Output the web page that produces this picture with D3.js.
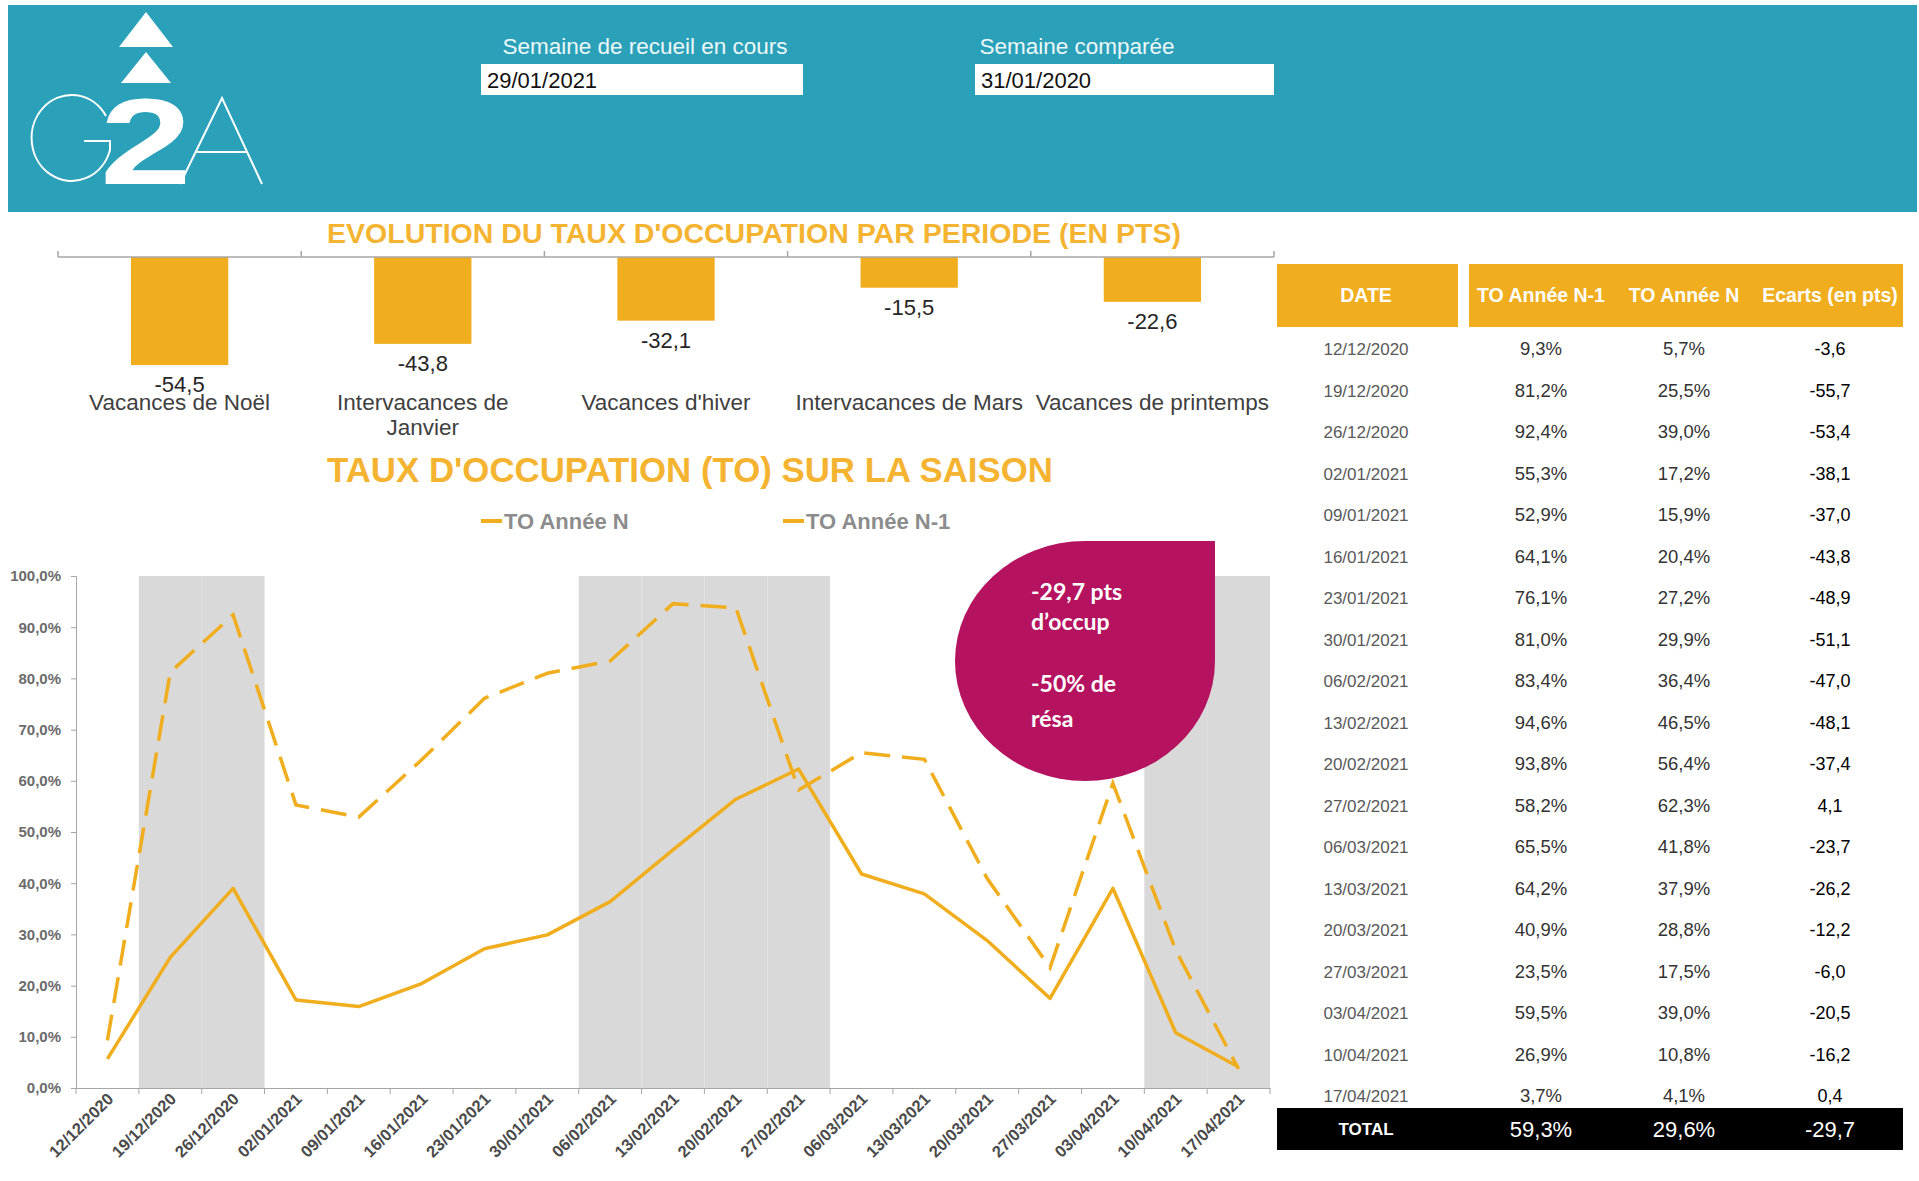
<!DOCTYPE html>
<html>
<head>
<meta charset="utf-8">
<title>G2A - Taux d'occupation</title>
<script src="https://cdnjs.cloudflare.com/ajax/libs/d3/7.8.5/d3.min.js"></script>
<style>
  body { margin: 0; background: #fff; }
  svg { display: block; font-family: "Liberation Sans", Arial, sans-serif; }
</style>
</head>
<body>
<div id="page"></div>
<script>
// header dates
var semaineRecueil = "29/01/2021";
var semaineComparee = "31/01/2020";

// evolution par periode (pts)
var periodes = ["Vacances de Noël", "Intervacances de Janvier", "Vacances d'hiver", "Intervacances de Mars", "Vacances de printemps"];
var ecartsPeriode = [-54.5, -43.8, -32.1, -15.5, -22.6];

// weekly occupation
var semaines = ["12/12/2020", "19/12/2020", "26/12/2020", "02/01/2021", "09/01/2021", "16/01/2021", "23/01/2021",
  "30/01/2021", "06/02/2021", "13/02/2021", "20/02/2021", "27/02/2021", "06/03/2021", "13/03/2021",
  "20/03/2021", "27/03/2021", "03/04/2021", "10/04/2021", "17/04/2021"];
var toN1 = [9.3, 81.2, 92.4, 55.3, 52.9, 64.1, 76.1, 81.0, 83.4, 94.6, 93.8, 58.2, 65.5, 64.2, 40.9, 23.5, 59.5, 26.9, 3.7];
var toN = [5.7, 25.5, 39.0, 17.2, 15.9, 20.4, 27.2, 29.9, 36.4, 46.5, 56.4, 62.3, 41.8, 37.9, 28.8, 17.5, 39.0, 10.8, 4.1];
var ecarts = [-3.6, -55.7, -53.4, -38.1, -37.0, -43.8, -48.9, -51.1, -47.0, -48.1, -37.4, 4.1, -23.7, -26.2, -12.2, -6.0, -20.5, -16.2, 0.4];
// weeks falling in school holidays (grey columns, 100%)
var vacances = [0, 100, 100, 0, 0, 0, 0, 0, 100, 100, 100, 100, 0, 0, 0, 0, 0, 100, 100];
var yTicks = [0, 10, 20, 30, 40, 50, 60, 70, 80, 90, 100];

// totals
var totalN1 = 59.3;
var totalN = 29.6;
var totalEcart = -29.7;

var calloutLines = ["-29,7 pts", "d\u2019occup", "-50% de", "résa"];

var orange = "#F0AE1E";
var teal = "#2AA1B8";

var fr = d3.formatLocale({decimal: ",", thousands: " ", grouping: [3], currency: ["", " €"], minus: "-"});
var f1 = fr.format(".1f");
var pct = function(v) { return f1(v) + "%"; };

var svg = d3.select("#page").append("svg")
    .attr("width", 1919)
    .attr("height", 1181);

// ---------- header band ----------
svg.append("rect")
    .attr("x", 8).attr("y", 5)
    .attr("width", 1909).attr("height", 207)
    .attr("fill", teal);

var logo = svg.append("g").attr("fill", "#fff");
logo.append("path").attr("d", "M146,12 L173,47 L119,47 Z");
logo.append("path").attr("d", "M146,52 L171,83 L121,83 Z");
// G (thin)
logo.append("path")
    .attr("d", "M106,116 A40,43 0 1 0 110,150 L110,141 L84,141")
    .attr("fill", "none").attr("stroke", "#fff").attr("stroke-width", 2);
// A (thin)
logo.append("path")
    .attr("d", "M180,184 L222,98 L262,184 M196,152 L247,152")
    .attr("fill", "none").attr("stroke", "#fff").attr("stroke-width", 2);
logo.append("text")
    .attr("transform", "translate(100,184) scale(1.35,1)")
    .attr("font-size", 122)
    .attr("font-weight", "bold")
    .attr("fill", "#fff")
    .text("2");

function dateBox(cx, x, w, label, value) {
  svg.append("text")
      .attr("x", cx).attr("y", 54)
      .attr("text-anchor", "middle")
      .attr("font-size", 22.5)
      .attr("fill", "#eef8fa")
      .text(label);
  svg.append("rect")
      .attr("x", x).attr("y", 64)
      .attr("width", w).attr("height", 31)
      .attr("fill", "#fff");
  svg.append("text")
      .attr("x", x + 6).attr("y", 88)
      .attr("font-size", 22)
      .attr("fill", "#111")
      .text(value);
}
dateBox(645, 481, 322, "Semaine de recueil en cours", semaineRecueil);
dateBox(1077, 975, 299, "Semaine comparée", semaineComparee);

// ---------- bar chart : evolution par periode ----------
svg.append("text")
    .attr("x", 754).attr("y", 243)
    .attr("text-anchor", "middle")
    .attr("font-size", 27)
    .attr("font-weight", "bold")
    .attr("fill", "#F4B431")
    .attr("textLength", 854)
    .attr("lengthAdjust", "spacingAndGlyphs")
    .text("EVOLUTION DU TAUX D'OCCUPATION PAR PERIODE (EN PTS)");

var xP = d3.scaleBand()
    .domain(periodes)
    .range([58, 1274])
    .paddingInner(0.6)
    .paddingOuter(0.3);
var yP = d3.scaleLinear()
    .domain([-60, 0])
    .range([376, 257]);

svg.selectAll(".pbar")
    .data(ecartsPeriode)
  .enter().append("rect")
    .attr("class", "pbar")
    .attr("x", function(d, i) { return xP(periodes[i]); })
    .attr("y", yP(0))
    .attr("width", xP.bandwidth())
    .attr("height", function(d) { return yP(d) - yP(0); })
    .attr("fill", orange);

// axis line with ticks between categories
svg.append("line")
    .attr("x1", 58).attr("x2", 1274)
    .attr("y1", yP(0)).attr("y2", yP(0))
    .attr("stroke", "#a6a6a6").attr("stroke-width", 1.5);
var bounds = periodes.map(function(d) { return xP(d) + xP.bandwidth() / 2 - xP.step() / 2; });
bounds.push(xP.range()[1]);
svg.selectAll(".ptick")
    .data(bounds)
  .enter().append("line")
    .attr("x1", function(d) { return d; }).attr("x2", function(d) { return d; })
    .attr("y1", yP(0)).attr("y2", yP(0) - 6)
    .attr("stroke", "#a6a6a6").attr("stroke-width", 1.5);

svg.selectAll(".pval")
    .data(ecartsPeriode)
  .enter().append("text")
    .attr("x", function(d, i) { return xP(periodes[i]) + xP.bandwidth() / 2; })
    .attr("y", function(d) { return yP(d) + 27; })
    .attr("text-anchor", "middle")
    .attr("font-size", 22)
    .attr("fill", "#262626")
    .text(function(d) { return f1(d); });

function wrap(text, width) {
  text.each(function() {
    var t = d3.select(this),
        words = t.text().split(/\s+/),
        line = [],
        lineNo = 0,
        x = t.attr("x"),
        y = +t.attr("y");
    t.text(null);
    var tspan = t.append("tspan").attr("x", x).attr("y", y);
    words.forEach(function(w) {
      line.push(w);
      tspan.text(line.join(" "));
      if (tspan.node().getComputedTextLength() > width && line.length > 1) {
        line.pop();
        tspan.text(line.join(" "));
        line = [w];
        tspan = t.append("tspan").attr("x", x).attr("y", y + (++lineNo) * 25).text(w);
      }
    });
  });
}

svg.selectAll(".pcat")
    .data(periodes)
  .enter().append("text")
    .attr("x", function(d) { return xP(d) + xP.bandwidth() / 2; })
    .attr("y", 410)
    .attr("text-anchor", "middle")
    .attr("font-size", 22.5)
    .attr("fill", "#404040")
    .text(function(d) { return d; })
    .call(wrap, xP.step() - 4);

// ---------- line chart : taux d'occupation ----------
svg.append("text")
    .attr("x", 690).attr("y", 482)
    .attr("text-anchor", "middle")
    .attr("font-size", 35)
    .attr("font-weight", "bold")
    .attr("fill", "#F4B431")
    .attr("textLength", 726)
    .attr("lengthAdjust", "spacingAndGlyphs")
    .text("TAUX D'OCCUPATION (TO) SUR LA SAISON");

// legend
var legend = [
  {name: "TO Année N", x: 481},
  {name: "TO Année N-1", x: 783}
];
legend.forEach(function(l) {
  svg.append("line")
      .attr("x1", l.x).attr("x2", l.x + 21)
      .attr("y1", 521).attr("y2", 521)
      .attr("stroke", orange).attr("stroke-width", 4);
  svg.append("text")
      .attr("x", l.x + 23).attr("y", 529)
      .attr("font-size", 22)
      .attr("font-weight", "bold")
      .attr("fill", "#8c8c8c")
      .text(l.name);
});

var xL = d3.scaleBand()
    .domain(semaines)
    .range([76, 1270])
    .padding(0);
var yL = d3.scaleLinear()
    .domain([0, 100])
    .range([1088, 576]);

// holiday columns
svg.selectAll(".vac")
    .data(semaines.filter(function(s, i) { return vacances[i] > 0; }))
  .enter().append("rect")
    .attr("class", "vac")
    .attr("x", function(d) { return xL(d); })
    .attr("y", function(d) { return yL(vacances[semaines.indexOf(d)]); })
    .attr("width", xL.bandwidth())
    .attr("height", function(d) { return yL(0) - yL(vacances[semaines.indexOf(d)]); })
    .attr("fill", "#d9d9d9");

var yAxis = svg.append("g")
    .attr("transform", "translate(76,0)")
    .call(d3.axisLeft(yL).tickValues(yTicks).tickSize(5).tickPadding(10).tickFormat(pct));
yAxis.selectAll("text")
    .attr("font-size", 15)
    .attr("font-weight", "bold")
    .attr("font-family", "Liberation Sans, Arial, sans-serif")
    .attr("fill", "#6b6b6b");
yAxis.selectAll("line, path").attr("stroke", "#a6a6a6");

var xAxis = svg.append("g")
    .attr("transform", "translate(0,1088)")
    .call(d3.axisBottom(xL).tickSize(0).tickFormat(""));
xAxis.select("path").attr("stroke", "#a6a6a6");
var lbounds = semaines.map(function(d) { return xL(d); });
lbounds.push(xL.range()[1]);
svg.selectAll(".ltick")
    .data(lbounds)
  .enter().append("line")
    .attr("x1", function(d) { return d; }).attr("x2", function(d) { return d; })
    .attr("y1", 1088).attr("y2", 1094)
    .attr("stroke", "#a6a6a6");

svg.selectAll(".xlab")
    .data(semaines)
  .enter().append("text")
    .attr("transform", function(d) {
      return "translate(" + (xL(d) + xL.bandwidth() / 2 + 7) + ",1100) rotate(-45)";
    })
    .attr("text-anchor", "end")
    .attr("font-size", 16.5)
    .attr("font-weight", "bold")
    .attr("fill", "#4a4a4a")
    .text(function(d) { return d; });

var line = d3.line()
    .x(function(d, i) { return xL(semaines[i]) + xL.bandwidth() / 2; })
    .y(function(d) { return yL(d); });

svg.append("path")
    .datum(toN1)
    .attr("d", line)
    .attr("fill", "none")
    .attr("stroke", orange)
    .attr("stroke-width", 3.5)
    .attr("stroke-dasharray", "26,12");

svg.append("path")
    .datum(toN)
    .attr("d", line)
    .attr("fill", "none")
    .attr("stroke", orange)
    .attr("stroke-width", 3.5)
    .attr("stroke-linejoin", "round");

// callout
svg.append("path")
    .attr("d", "M1085,541 L1215,541 L1215,661 A130,120 0 1 1 1085,541 Z")
    .attr("fill", "#B5135F");
var cy = [600, 630, 692, 727];
calloutLines.forEach(function(t, i) {
  svg.append("text")
      .attr("x", 1031).attr("y", cy[i])
      .attr("font-family", "Lato, 'Open Sans', sans-serif")
      .attr("font-size", 23)
      .attr("font-weight", "bold")
      .attr("fill", "#fff")
      .text(t);
});

// ---------- table ----------
var colX = [1366, 1541, 1684, 1830];
svg.append("rect")
    .attr("x", 1277).attr("y", 264)
    .attr("width", 181).attr("height", 63)
    .attr("fill", orange);
svg.append("rect")
    .attr("x", 1469).attr("y", 264)
    .attr("width", 434).attr("height", 63)
    .attr("fill", orange);
["DATE", "TO Année N-1", "TO Année N", "Ecarts (en pts)"].forEach(function(h, i) {
  svg.append("text")
      .attr("x", colX[i]).attr("y", 302)
      .attr("text-anchor", "middle")
      .attr("font-size", 19.5)
      .attr("font-weight", "bold")
      .attr("fill", "#fff")
      .text(h);
});

var yRow = d3.scalePoint()
    .domain(semaines)
    .range([348, 1095]);

var rows = svg.selectAll(".row")
    .data(semaines)
  .enter().append("g")
    .attr("class", "row")
    .attr("transform", function(d) { return "translate(0," + (yRow(d) + 7) + ")"; });
rows.append("text")
    .attr("x", colX[0]).attr("text-anchor", "middle")
    .attr("font-size", 17).attr("fill", "#595959")
    .text(function(d) { return d; });
rows.append("text")
    .attr("x", colX[1]).attr("text-anchor", "middle")
    .attr("font-size", 18.5).attr("fill", "#333")
    .text(function(d, i) { return pct(toN1[i]); });
rows.append("text")
    .attr("x", colX[2]).attr("text-anchor", "middle")
    .attr("font-size", 18.5).attr("fill", "#333")
    .text(function(d, i) { return pct(toN[i]); });
rows.append("text")
    .attr("x", colX[3]).attr("text-anchor", "middle")
    .attr("font-size", 18).attr("fill", "#000")
    .text(function(d, i) { return f1(ecarts[i]); });

svg.append("rect")
    .attr("x", 1277).attr("y", 1108)
    .attr("width", 626).attr("height", 42)
    .attr("fill", "#000");
svg.append("text")
    .attr("x", colX[0]).attr("y", 1135)
    .attr("text-anchor", "middle")
    .attr("font-size", 17).attr("font-weight", "bold")
    .attr("fill", "#fff")
    .text("TOTAL");
[pct(totalN1), pct(totalN), f1(totalEcart)].forEach(function(t, i) {
  svg.append("text")
      .attr("x", colX[i + 1]).attr("y", 1137)
      .attr("text-anchor", "middle")
      .attr("font-size", 22)
      .attr("fill", "#fff")
      .text(t);
});
</script>
</body>
</html>
